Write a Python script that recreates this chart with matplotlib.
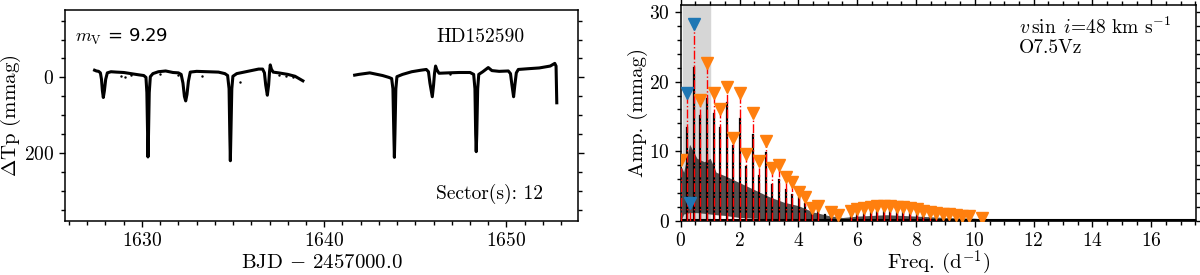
import numpy as np
import matplotlib
matplotlib.use('Agg')
import matplotlib.pyplot as plt
from matplotlib.ticker import MultipleLocator

plt.rcParams['font.family'] = 'serif'
plt.rcParams['font.serif'] = ['cmr10', 'DejaVu Serif']
plt.rcParams['mathtext.fontset'] = 'cm'
plt.rcParams['axes.unicode_minus'] = False
plt.rcParams['axes.formatter.use_mathtext'] = True

# light curve, sector 12
lc1_t = [1627.40, 1627.50, 1627.62, 1627.72, 1627.78, 1627.83, 1627.88, 1627.94, 1628.01,
         1628.10, 1628.30, 1628.60, 1629.00, 1629.40, 1629.80, 1630.10, 1630.22, 1630.27,
         1630.31, 1630.33, 1630.36, 1630.40, 1630.46, 1630.60, 1630.90, 1631.30, 1631.70,
         1632.00, 1632.15, 1632.25, 1632.33, 1632.40, 1632.47, 1632.55, 1632.65, 1633.00,
         1633.60, 1634.20, 1634.55, 1634.70, 1634.78, 1634.82, 1634.85, 1634.88, 1634.93,
         1634.99, 1635.20, 1635.60, 1636.00, 1636.40, 1636.62, 1636.72, 1636.79, 1636.88,
         1636.95, 1637.00, 1637.04, 1637.10, 1637.20, 1637.50, 1638.00, 1638.40, 1638.83]
lc1_m = [-19, -17, -16, -12, 5, 35, 53, 35, 5,
         -12, -15, -14, -13, -10, -7, -5, 0, 40,
         150, 210, 150, 40, -2, -10, -15, -17, -13,
         -12, -8, 15, 50, 62, 45, 10, -14, -16,
         -15, -14, -10, -5, 30, 150, 220, 150, 30,
         -3, -10, -14, -18, -22, -22, -12, 20, 47,
         20, -15, -33, -22, -14, -12, -8, -3, 9]
lc2_t = [1641.67, 1641.90, 1642.20, 1642.50, 1642.80, 1643.20, 1643.55, 1643.70, 1643.77,
         1643.82, 1643.85, 1643.88, 1643.93, 1643.99, 1644.30, 1644.80, 1645.30, 1645.60,
         1645.72, 1645.80, 1645.93, 1646.00, 1646.05, 1646.11, 1646.18, 1646.30, 1646.80,
         1647.40, 1648.00, 1648.20, 1648.27, 1648.31, 1648.34, 1648.37, 1648.42, 1648.48,
         1648.70, 1649.00, 1649.20, 1649.60, 1650.10, 1650.22, 1650.30, 1650.39, 1650.46,
         1650.54, 1650.65, 1651.20, 1651.80, 1652.40, 1652.65, 1652.72, 1652.76]
lc2_m = [-6, -8, -10, -12, -9, -5, 0, 3, 30,
         150, 211, 150, 30, -2, -8, -15, -19, -21,
         -15, 15, 51, 20, -10, -30, -20, -11, -12,
         -13, -13, -8, 30, 150, 196, 150, 30, -8,
         -15, -26, -18, -16, -17, -10, 20, 51, 20,
         -12, -21, -23, -25, -30, -37, -30, 67]
out_t = [1628.85, 1629.05, 1629.40, 1631.00, 1632.00, 1633.30, 1635.37, 1637.50, 1637.90, 1638.30, 1646.90]
out_m = [-4, -1, -6, -8, -6, -5, 12, -6, -3, -1, -8]

# amplitude spectrum: harmonic spikes and the dense sidelobe band
spk_f = [0.223, 0.445, 0.668, 0.891, 1.114, 1.336, 1.559, 1.782, 2.004, 2.227, 2.450,
         2.672, 2.895, 3.118, 3.340, 3.563, 3.786, 4.008, 4.231, 4.454, 4.676, 4.900,
         5.122, 5.345, 5.790, 6.010, 6.240, 6.460, 6.680, 6.900, 7.130, 7.350, 7.570,
         7.800, 8.020, 8.240, 8.460, 8.690, 8.910, 9.130, 9.350, 9.580, 9.800, 10.240]
spk_a = [13.4, 22.0, 15.0, 17.5, 15.3, 13.4, 17.0, 10.7, 14.6, 7.8, 12.4,
         6.4, 9.8, 5.2, 5.9, 4.5, 3.75, 3.3, 2.5, 1.6, 1.35, 0.9,
         0.9, 0.8, 1.0, 1.1, 1.2, 1.3, 1.35, 1.4, 1.4, 1.35, 1.3,
         1.2, 1.1, 1.0, 0.9, 0.8, 0.7, 0.65, 0.55, 0.5, 0.45, 0.3]
band_f = [0.0, 0.1, 0.3, 0.55, 0.8, 1.0, 1.2, 1.5, 2.0, 2.5, 3.0, 3.5, 4.0, 4.5, 5.0,
          5.5, 6.0, 7.0, 8.0, 9.0, 10.0, 10.5, 12.0, 17.5]
band_lo = [0.0, 1.0, 1.2, 1.2, 1.1, 1.0, 0.9, 0.8, 0.5, 0.4, 0.3, 0.2, 0.1, 0.05, 0.0,
           0.0, 0.0, 0.0, 0.0, 0.0, 0.0, 0.0, 0.0, 0.0]
band_hi = [8.0, 7.0, 11.0, 9.0, 8.5, 9.0, 7.0, 6.5, 5.5, 4.5, 3.5, 2.7, 2.2, 1.3, 0.8,
           0.5, 0.7, 0.9, 0.7, 0.5, 0.4, 0.15, 0.15, 0.1]

# extracted frequencies
orng_f = [0.02, 0.668, 0.891, 1.114, 1.336, 1.559, 1.782, 2.004, 2.227, 2.450, 2.672,
          2.895, 3.118, 3.340, 3.563, 3.786, 4.008, 4.231, 4.454, 4.676, 5.122, 5.345,
          5.790, 6.010, 6.240, 6.460, 6.680, 6.900, 7.130, 7.350, 7.570, 7.800, 8.020,
          8.240, 8.460, 8.690, 8.910, 9.130, 9.350, 9.580, 9.800, 10.240]
orng_a = [8.7, 17.3, 22.7, 18.4, 16.1, 19.3, 11.9, 18.3, 9.6, 15.5, 8.65,
          11.5, 7.6, 8.0, 6.25, 5.6, 4.1, 3.5, 1.8, 2.2, 1.25, 0.9,
          1.5, 1.7, 1.85, 2.0, 2.1, 2.2, 2.15, 2.05, 2.0, 1.85, 1.65,
          1.5, 1.35, 1.2, 1.05, 0.95, 0.85, 0.75, 0.65, 0.4]
blue_f = [0.223, 0.445, 0.33]
blue_a = [18.3, 28.3, 2.6]


def style_axis(ax, top):
    ax.tick_params(which='both', direction='out', labelsize=14,
                   right=True, top=top, width=1)
    ax.tick_params(which='major', length=4.5)
    ax.tick_params(which='minor', length=3)
    for s in ax.spines.values():
        s.set_linewidth(1.1)


fig = plt.figure(figsize=(12, 2.75), dpi=100)

# Light curve
ax1 = fig.add_axes([0.0545, 0.1964, 0.4268, 0.7673])
ax1.plot(lc1_t, lc1_m, color='k', lw=2.2)
ax1.plot(lc2_t, lc2_m, color='k', lw=2.2)
ax1.plot(out_t, out_m, 'k.', ms=1.5)
ax1.set_xlim(1625.8, 1653.9)
ax1.set_ylim(379, -178)
ax1.xaxis.set_major_locator(MultipleLocator(10))
ax1.xaxis.set_minor_locator(MultipleLocator(1))
ax1.yaxis.set_major_locator(MultipleLocator(200))
ax1.yaxis.set_minor_locator(MultipleLocator(50))
style_axis(ax1, False)
ax1.set_xlabel(r'BJD $-$ 2457000.0', fontsize=15)
ax1.set_ylabel(r'$\Delta$Tp (mmag)', fontsize=15)
ax1.xaxis.set_label_coords(0.5, -0.155)
ax1.yaxis.set_label_coords(-0.083, 0.5)
ax1.text(0.019, 0.87, r'$m_{\rm V}$ = 9.29', transform=ax1.transAxes, fontsize=13,
         va='center', family=['DejaVu Sans'])
ax1.text(0.724, 0.87, 'HD152590', transform=ax1.transAxes, fontsize=14, va='center')
ax1.text(0.724, 0.128, 'Sector(s): 12', transform=ax1.transAxes, fontsize=14, va='center')

# Amplitude spectrum
ax2 = fig.add_axes([0.5673, 0.1964, 0.4293, 0.7855])
ax2.axvspan(0.09, 1.0, color='#d6d6d6', zorder=0)
ax2.fill_between(band_f, band_lo, band_hi, color='0.15', alpha=0.8, lw=0, zorder=1)
for f, a in zip(spk_f, spk_a):
    ax2.plot([f, f], [0, a], color='k', lw=1.6, zorder=2)
ax2.plot([0, 17.5], [0.1, 0.1], color='k', lw=1.5, zorder=2)
for f, a in zip(orng_f + blue_f, orng_a + blue_a):
    ax2.plot([f, f], [0, a], color='red', ls='-.', lw=1.0, zorder=3)
ax2.plot(orng_f, orng_a, 'v', color='#ff7f0e', ms=8.5, zorder=4)
ax2.plot(blue_f, blue_a, 'v', color='#1f77b4', ms=8.5, zorder=4)
ax2.set_xlim(0, 17.52)
ax2.set_ylim(0, 31)
ax2.xaxis.set_major_locator(MultipleLocator(2))
ax2.xaxis.set_minor_locator(MultipleLocator(0.5))
ax2.yaxis.set_major_locator(MultipleLocator(10))
ax2.yaxis.set_minor_locator(MultipleLocator(2))
style_axis(ax2, True)
ax2.set_xlabel(r'Freq. (d$^{-1}$)', fontsize=15)
ax2.set_ylabel('Amp. (mmag)', fontsize=15)
ax2.xaxis.set_label_coords(0.5, -0.13)
ax2.yaxis.set_label_coords(-0.064, 0.5)
ax2.text(0.656, 0.894, r'$v\,\sin\ i$=48 km s$^{-1}$', transform=ax2.transAxes,
         fontsize=14, va='center')
ax2.text(0.656, 0.80, 'O7.5Vz', transform=ax2.transAxes, fontsize=14, va='center')

plt.savefig('out.png', dpi=100)
plt.close()
